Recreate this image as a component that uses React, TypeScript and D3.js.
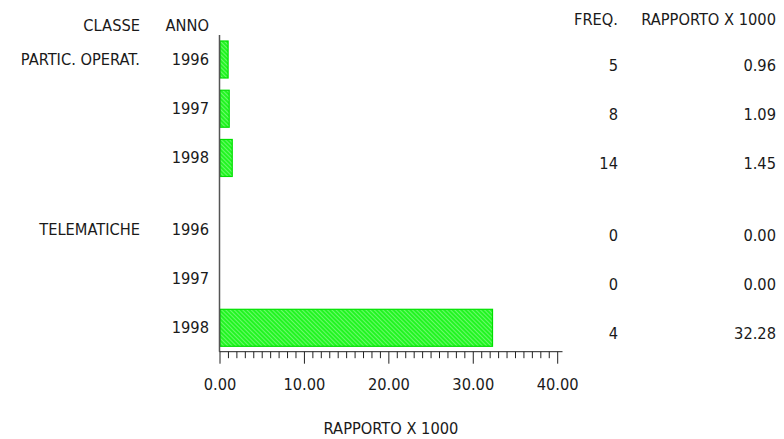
import React from "react";
import * as d3 from "d3";

const classes = ["PARTIC. OPERAT.", "TELEMATICHE"];
const years = ["1996", "1997", "1998"];
const freq = [
  [5, 8, 14],
  [0, 0, 4],
];
const ratio = [
  [0.96, 1.09, 1.45],
  [0.0, 0.0, 32.28],
];
const xTicks = [0, 10, 20, 30, 40];

const W = 784;
const H = 439;
const FONT = "'DejaVu Sans Condensed', 'Liberation Sans Narrow', sans-serif";

export default function App() {
  const x = d3.scaleLinear().domain([0, 40]).range([220, 557.7]);
  const groupGap = 0.45;
  const rowPos = (g: number, i: number) => g * (years.length + groupGap) + i;
  const y = d3
    .scaleLinear()
    .domain([0, rowPos(1, 2)])
    .range([59.5, 327.8]);
  const barH = 37;
  const axisY = 351.7;
  const minor = d3.range(0, 41, 1);

  const rows: { g: number; i: number }[] = [];
  classes.forEach((_, g) => years.forEach((__, i) => rows.push({ g, i })));

  const txt = {
    fontFamily: FONT,
    fontSize: 16.3,
    fill: "#1a1a1a",
  } as const;

  return (
    <svg
      width={W}
      height={H}
      style={{ position: "fixed", left: 0, top: 0, background: "#fff" }}
    >
      <defs>
        <pattern
          id="hatch"
          width={3}
          height={3}
          patternUnits="userSpaceOnUse"
          patternTransform="rotate(-45)"
        >
          <rect width={3} height={3} fill="#22f522" />
          <line x1={0} y1={0} x2={0} y2={3} stroke="#b4ffb4" strokeWidth={1} />
        </pattern>
      </defs>

      {/* headers */}
      <text x={140} y={25} textAnchor="end" dominantBaseline="central" {...txt}>
        CLASSE
      </text>
      <text x={209} y={25} textAnchor="end" dominantBaseline="central" {...txt}>
        ANNO
      </text>
      <text x={618} y={19} textAnchor="end" dominantBaseline="central" {...txt}>
        FREQ.
      </text>
      <text x={776} y={19} textAnchor="end" dominantBaseline="central" {...txt}>
        RAPPORTO X 1000
      </text>

      {classes.map((c, g) => (
        <text
          key={c}
          x={140}
          y={y(rowPos(g, 0))}
          textAnchor="end"
          dominantBaseline="central"
          {...txt}
        >
          {c}
        </text>
      ))}

      {rows.map(({ g, i }) => {
        const cy = y(rowPos(g, i));
        const v = ratio[g][i];
        return (
          <g key={`${g}-${i}`}>
            <text x={209} y={cy} textAnchor="end" dominantBaseline="central" {...txt}>
              {years[i]}
            </text>
            {v > 0 && (
              <rect
                x={x(0)}
                y={cy - barH / 2}
                width={x(v) - x(0)}
                height={barH}
                fill="url(#hatch)"
                stroke="#00e000"
                strokeWidth={1.2}
              />
            )}
            <text x={618} y={cy + 6} textAnchor="end" dominantBaseline="central" {...txt}>
              {freq[g][i]}
            </text>
            <text x={776} y={cy + 6} textAnchor="end" dominantBaseline="central" {...txt}>
              {v.toFixed(2)}
            </text>
          </g>
        );
      })}

      {/* y axis line */}
      <line x1={219.5} x2={219.5} y1={35} y2={axisY} stroke="#555" strokeWidth={1.5} />

      {/* x axis */}
      <line x1={219.5} x2={562.5} y1={axisY} y2={axisY} stroke="#222" strokeWidth={1} />
      {minor.map((t) => {
        const major = t % 10 === 0;
        return (
          <line
            key={t}
            x1={x(t)}
            x2={x(t)}
            y1={axisY}
            y2={axisY + (major ? 12 : 6.5)}
            stroke="#222"
            strokeWidth={1}
          />
        );
      })}
      {xTicks.map((t) => (
        <text
          key={t}
          x={x(t)}
          y={384}
          textAnchor="middle"
          dominantBaseline="central"
          {...txt}
        >
          {t.toFixed(2)}
        </text>
      ))}
      <text x={391} y={428} textAnchor="middle" dominantBaseline="central" {...txt}>
        RAPPORTO X 1000
      </text>
    </svg>
  );
}
